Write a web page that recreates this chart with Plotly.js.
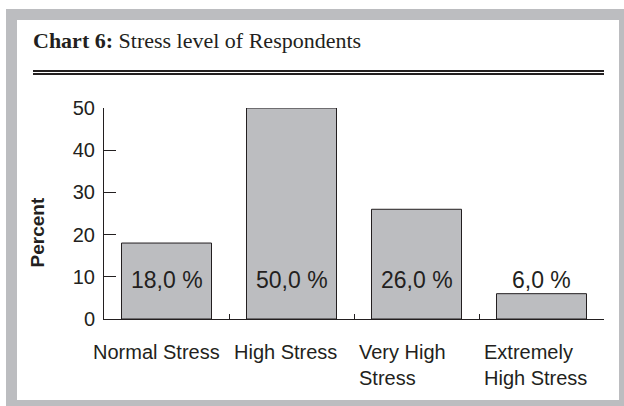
<!DOCTYPE html>
<html>
<head>
<meta charset="utf-8">
<script src="https://cdn.plot.ly/plotly-3.0.1.min.js"></script>
<style>
  html, body { margin: 0; padding: 0; background: #ffffff; }
  #wrap { position: relative; width: 624px; height: 406px; overflow: hidden; }
  #frame { position: absolute; left: 6px; top: 9px; width: 602px; height: 380px;
           border-style: solid; border-color: #bcbdc0;
           border-width: 11px 5px 6px 11px; background: #ffffff; }
  .rule { position: absolute; left: 33px; width: 571px; background: #231f20; }
  #chart { position: absolute; left: 0; top: 0; width: 624px; height: 406px; }
</style>
</head>
<body>
<div id="wrap">
  <div id="frame"></div>
  <div class="rule" style="top:70px;height:2px;"></div>
  <div class="rule" style="top:73px;height:2px;"></div>
  <div id="chart"></div>
</div>
<script>
const categories = ["Normal Stress", "High Stress", "Very High<br>Stress", "Extremely<br>High Stress"];
const percents = [18.0, 50.0, 26.0, 6.0];
const valueLabels = ["18,0 %", "50,0 %", "26,0 %", "6,0 %"];
const yTicks = [0, 10, 20, 30, 40, 50];

const ink = "#231f20";
const cats = categories.map((c, i) => "c" + i);

const annotations = [];
categories.forEach((c, i) => {
  annotations.push({
    x: cats[i], y: 0, xref: "x", yref: "y",
    text: c, showarrow: false,
    xanchor: i === 0 ? "center" : "left", align: "left",
    xshift: i === 0 ? -10 : -60,
    yanchor: "top", yshift: -20,
    font: {family: "Liberation Sans, Arial, sans-serif", size: 20, color: ink}
  });
  annotations.push({
    x: cats[i], y: 9.3, xref: "x", yref: "y",
    text: valueLabels[i], showarrow: false,
    xanchor: "center", yanchor: "middle",
    font: {family: "Liberation Sans, Arial, sans-serif", size: 23, color: ink}
  });
});
annotations.push({
  x: -0.134, y: 0.41, xref: "paper", yref: "paper",
  text: "<b>Percent</b>", showarrow: false, textangle: -90,
  xanchor: "center", yanchor: "middle",
  font: {family: "Liberation Sans, Arial, sans-serif", size: 19, color: ink}
});

const data = [{
  type: "bar",
  x: cats,
  y: percents,
  width: 0.72,
  marker: {color: "#bcbdc0", line: {color: ink, width: 1}},
  hoverinfo: "skip"
}];

const layout = {
  width: 624, height: 406,
  margin: {l: 104, r: 20, t: 108, b: 87, pad: 0},
  paper_bgcolor: "rgba(0,0,0,0)",
  plot_bgcolor: "rgba(0,0,0,0)",
  showlegend: false,
  title: {
    text: "<b>Chart 6:</b> Stress level of Respondents",
    xref: "container", yref: "container",
    x: 33 / 624, xanchor: "left",
    y: 1 - 40 / 406, yanchor: "middle",
    font: {family: "Liberation Serif, Times New Roman, serif", size: 22, color: ink}
  },
  xaxis: {
    type: "category",
    range: [-0.5, 3.5],
    showline: true, linecolor: ink, linewidth: 1,
    ticks: "inside", tickson: "boundaries", ticklen: 5, tickcolor: ink, tickwidth: 1,
    showticklabels: false, showgrid: false, zeroline: false, fixedrange: true
  },
  yaxis: {
    range: [0, 50],
    tickvals: yTicks,
    ticktext: yTicks.map(String),
    showline: true, linecolor: ink, linewidth: 1,
    ticks: "inside", ticklen: 12, tickcolor: ink, tickwidth: 1,
    showgrid: false, zeroline: false, fixedrange: true,
    tickfont: {family: "Liberation Sans, Arial, sans-serif", size: 20, color: ink},
    ticklabelstandoff: 4
  },
  annotations: annotations
};

Plotly.newPlot("chart", data, layout, {displayModeBar: false, staticPlot: true});
</script>
</body>
</html>
